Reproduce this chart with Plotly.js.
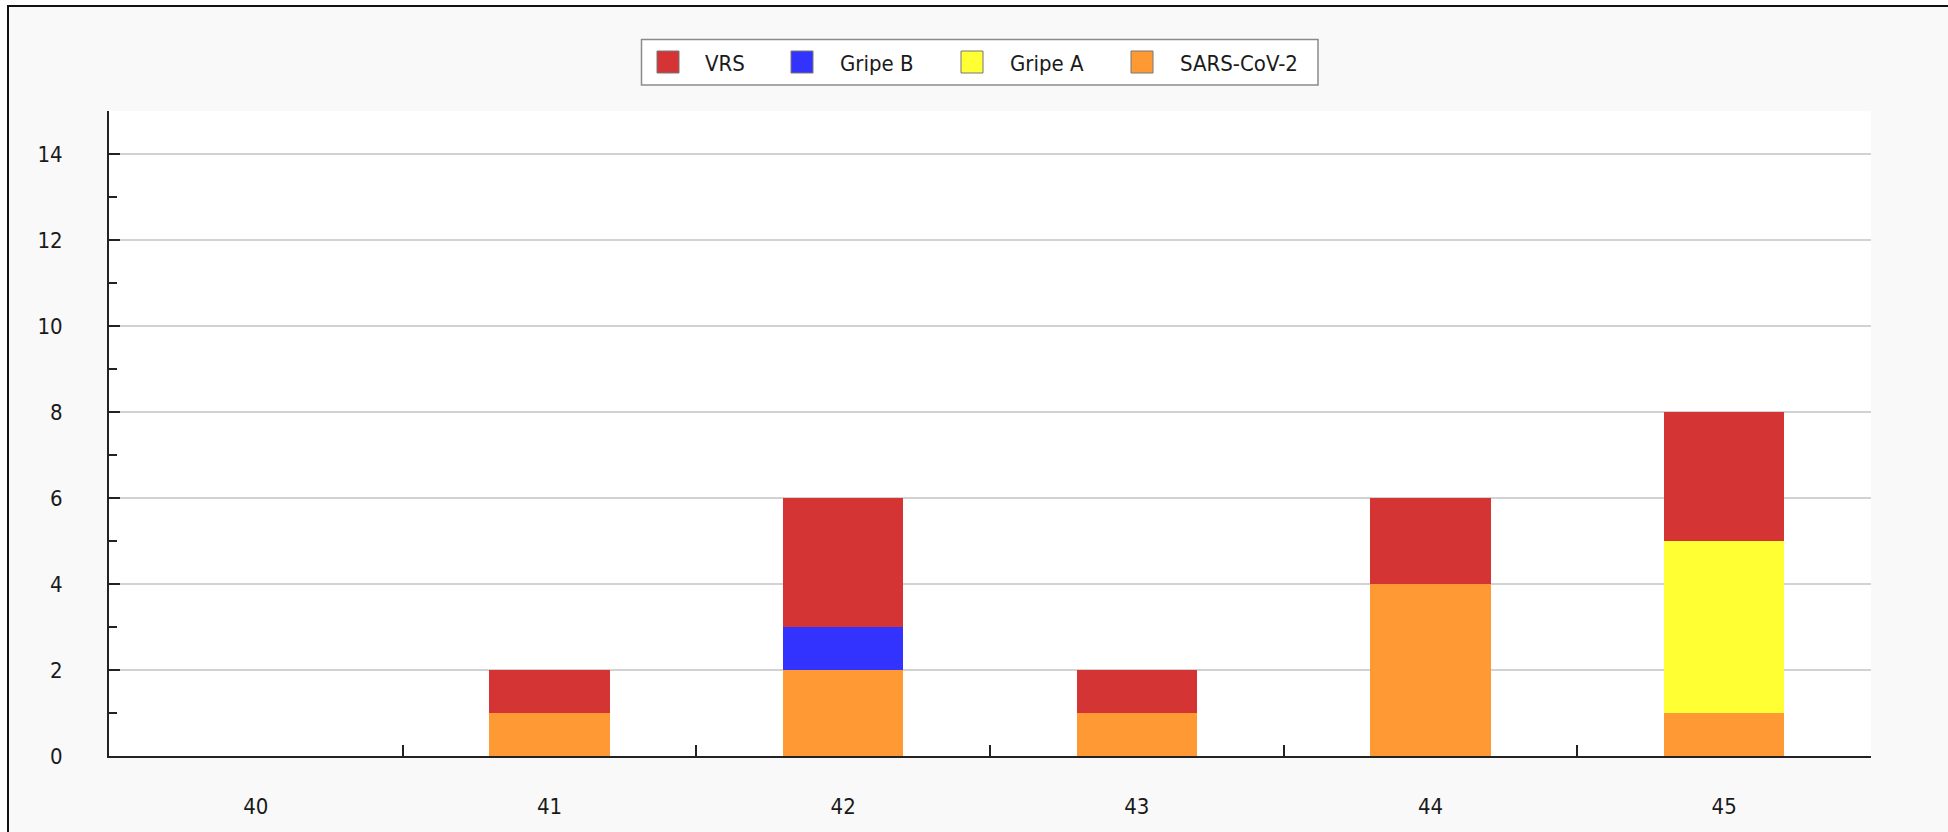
<!DOCTYPE html>
<html>
<head>
<meta charset="utf-8">
<script src="https://cdn.plot.ly/plotly-3.0.1.min.js"></script>
<style>
  html, body { margin: 0; padding: 0; background: #ffffff; }
  #wrap { position: relative; width: 1948px; height: 832px; overflow: hidden; background: #ffffff; }
  #frame { position: absolute; left: 7px; top: 5px; width: 1945px; height: 830px;
           border-left: 2px solid #111; border-top: 2px solid #111; background: #f9f9f9; }
  #chart { position: absolute; left: 0; top: 0; width: 1948px; height: 832px; }
</style>
</head>
<body>
<div id="wrap">
  <div id="frame"></div>
  <div id="chart"></div>
</div>
<script>
// ---- data ----
const weeks = ['40', '41', '42', '43', '44', '45'];
const sarsCov2 = [0, 1, 2, 1, 4, 1];
const gripeA   = [0, 0, 0, 0, 0, 4];
const gripeB   = [0, 0, 1, 0, 0, 0];
const vrs      = [0, 1, 3, 1, 2, 3];
const seriesNames = ['VRS', 'Gripe B', 'Gripe A', 'SARS-CoV-2'];
const yTickVals = [0, 2, 4, 6, 8, 10, 12, 14];

// ---- style ----
const colors = { 'VRS': '#d43434', 'Gripe B': '#3333ff', 'Gripe A': '#ffff33', 'SARS-CoV-2': '#ff9933' };
const FONT = '"DejaVu Sans Condensed", "DejaVu Sans", sans-serif';
const L = 109, R = 1871, T = 111, B = 756;
const PW = R - L, PH = B - T;
const px2x = p => (p - L) / PW;
const py2y = p => (B - p) / PH;

function barTrace(name, vals) {
  return { type: 'bar', name: name, x: weeks, y: vals, width: 0.41,
           marker: { color: colors[name], line: { width: 0 } },
           showlegend: false, hoverinfo: 'x+y+name' };
}

const data = [
  barTrace('SARS-CoV-2', sarsCov2),
  barTrace('Gripe A', gripeA),
  barTrace('Gripe B', gripeB),
  barTrace('VRS', vrs)
];

// custom legend (layout decoration)
const swatchLeft = [657, 791, 961, 1131];
const textLeft = [703, 838, 1008, 1178];
const legCy = 62;
const shapes = [{
  type: 'rect', xref: 'paper', yref: 'paper',
  x0: px2x(641.5), x1: px2x(1318), y0: py2y(39.5), y1: py2y(85),
  fillcolor: '#ffffff', line: { color: '#8a8a8a', width: 1.5 }, layer: 'above'
}];
const annotations = [];
seriesNames.forEach((n, i) => {
  shapes.push({
    type: 'rect', xref: 'paper', yref: 'paper',
    x0: px2x(swatchLeft[i]), x1: px2x(swatchLeft[i] + 22),
    y0: py2y(legCy - 11), y1: py2y(legCy + 11),
    fillcolor: colors[n], line: { color: '#777777', width: 1 }, layer: 'above'
  });
  annotations.push({
    xref: 'paper', yref: 'paper', x: px2x(textLeft[i]), y: py2y(legCy + 1),
    xanchor: 'left', yanchor: 'middle', showarrow: false, text: n,
    font: { family: FONT, size: 22, color: '#1a1a1a' }
  });
});

const layout = {
  width: 1948, height: 832,
  paper_bgcolor: 'rgba(0,0,0,0)', plot_bgcolor: '#ffffff',
  margin: { l: L, r: 1948 - R, t: T, b: 832 - B, pad: 0 },
  barmode: 'stack',
  showlegend: false,
  font: { family: FONT, size: 22, color: '#1a1a1a' },
  xaxis: {
    type: 'category', range: [-0.5, 5.5], tickson: 'boundaries',
    ticks: 'inside', ticklen: 11, tickwidth: 2, tickcolor: '#222222',
    showline: true, linecolor: '#222222', linewidth: 2,
    showgrid: false, zeroline: false, fixedrange: true,
    tickfont: { family: FONT, size: 22, color: '#1a1a1a' },
    ticklabelstandoff: 30
  },
  yaxis: {
    range: [0, 15], tickvals: yTickVals,
    ticks: 'inside', ticklen: 11, tickwidth: 2, tickcolor: '#222222',
    minor: { dtick: 1, tick0: 0, ticks: 'inside', ticklen: 8, tickwidth: 2, tickcolor: '#222222', showgrid: false },
    showline: true, linecolor: '#222222', linewidth: 2,
    showgrid: true, gridcolor: '#d2d2d2', gridwidth: 1.5,
    zeroline: false, fixedrange: true,
    tickfont: { family: FONT, size: 22, color: '#1a1a1a' },
    ticklabelstandoff: 40
  },
  shapes: shapes,
  annotations: annotations
};

Plotly.newPlot('chart', data, layout, { displayModeBar: false, staticPlot: true });
</script>
</body>
</html>
